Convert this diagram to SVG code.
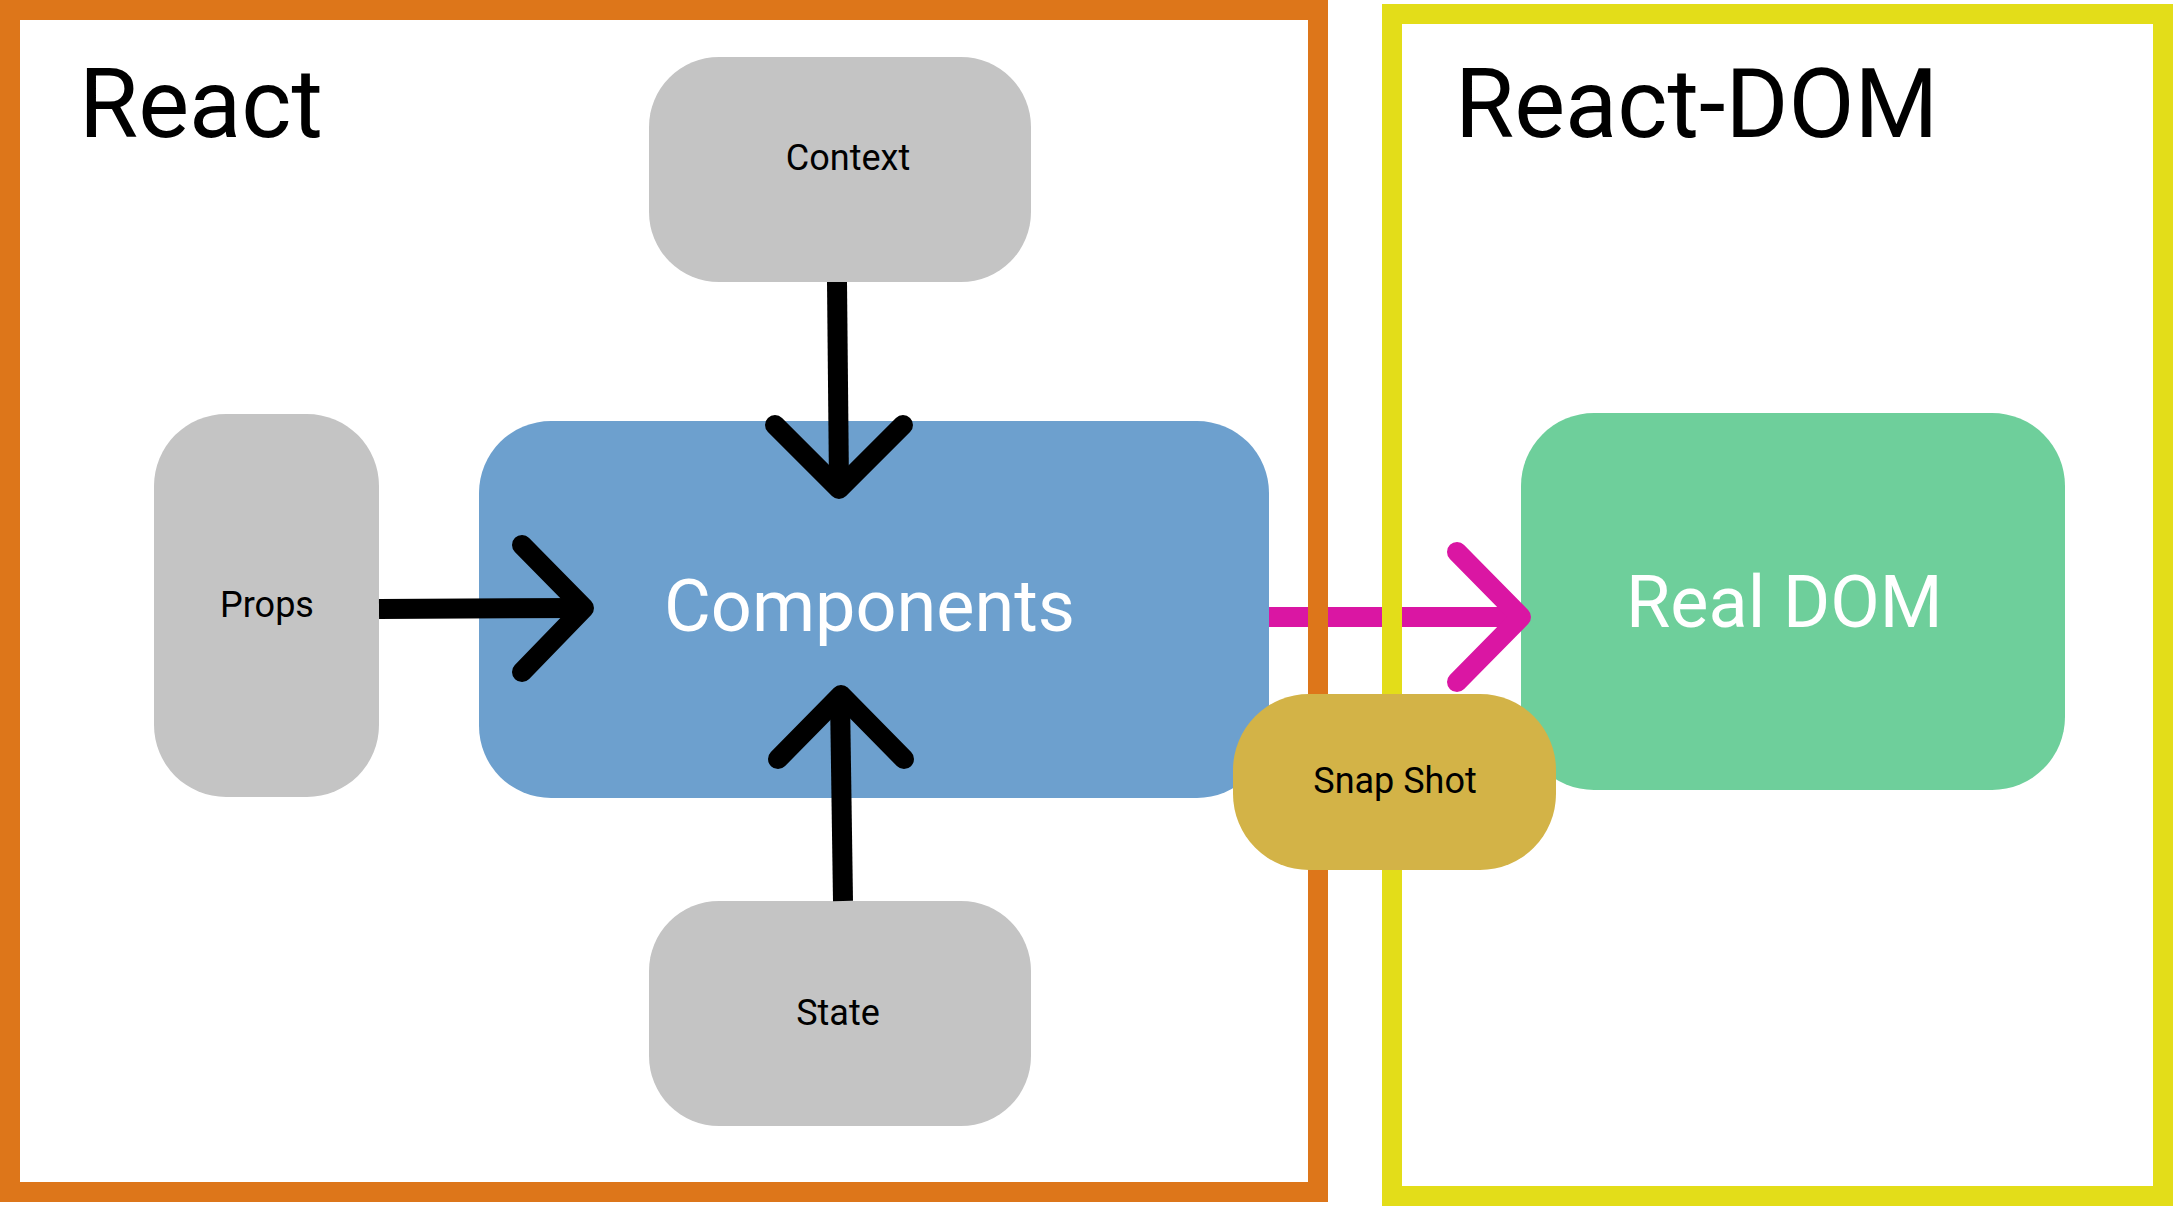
<svg xmlns="http://www.w3.org/2000/svg" width="2173" height="1206" viewBox="0 0 2173 1206">
  <style>
    .lbl { font-family: Roboto, "Liberation Sans", Arial, sans-serif; fill: #000; font-size: 36px; text-anchor: middle; }
    .big { font-family: Roboto, "Liberation Sans", Arial, sans-serif; fill: #fff; font-size: 72px; }
    .title { font-family: Roboto, "Liberation Sans", Arial, sans-serif; fill: #000; font-size: 96px; }
    .gray { fill: #C4C4C4; }
    .conn { fill: none; stroke: #000; stroke-width: 20; stroke-linecap: round; stroke-linejoin: round; }
    .conn .shaft { stroke-linecap: butt; }
    .mag { stroke: #DA16A3; }
    .frame { fill: none; stroke-width: 20; }
  </style>
  <rect x="0" y="0" width="2173" height="1206" fill="#fff"/>

  <g id="components">
    <rect x="479" y="421" width="790" height="377" rx="72" ry="72" fill="#6DA0CE"/>
    <text class="big" x="664" y="631">Components</text>
  </g>
  <g id="real-dom">
    <rect x="1521" y="413" width="544" height="377" rx="73" ry="73" fill="#6ECF9B"/>
    <text class="big" x="1626" y="627">Real DOM</text>
  </g>
  <g id="props">
    <rect class="gray" x="154" y="414" width="225" height="383" rx="72" ry="72"/>
    <text class="lbl" x="267" y="617">Props</text>
  </g>
  <g id="context">
    <rect class="gray" x="649" y="57" width="382" height="225" rx="70" ry="70"/>
    <text class="lbl" x="848" y="170">Context</text>
  </g>
  <g id="state">
    <rect class="gray" x="649" y="901" width="382" height="225" rx="70" ry="70"/>
    <text class="lbl" x="838" y="1025">State</text>
  </g>

  <g id="connectors" class="conn">
    <g id="context-to-components">
      <path class="shaft" d="M837 282 L839 486"/>
      <path d="M775 425 L839 489 L903 425"/>
    </g>
    <g id="props-to-components">
      <path class="shaft" d="M379 609 L581 608"/>
      <path d="M522 545 L584 608 L522 672"/>
    </g>
    <g id="state-to-components">
      <path class="shaft" d="M843 901 L840 698"/>
      <path d="M778 759 L841 695 L904 759"/>
    </g>
    <g id="components-to-realdom" class="mag">
      <path class="shaft" d="M1269 617 L1518 617"/>
      <path d="M1457 552 L1521 617 L1457 682"/>
    </g>
  </g>

  <g id="react-frame">
    <rect class="frame" x="10" y="10" width="1308" height="1182" stroke="#DD761A"/>
    <text class="title" x="79" y="137">React</text>
  </g>
  <g id="react-dom-frame">
    <rect class="frame" x="1392" y="14" width="771" height="1182" stroke="#E3DD19"/>
    <text class="title" x="1455" y="137">React-DOM</text>
  </g>

  <g id="snap-shot">
    <rect x="1233" y="694" width="323" height="176" rx="76" ry="76" fill="#D3B347"/>
    <text class="lbl" x="1395" y="793">Snap Shot</text>
  </g>
</svg>
